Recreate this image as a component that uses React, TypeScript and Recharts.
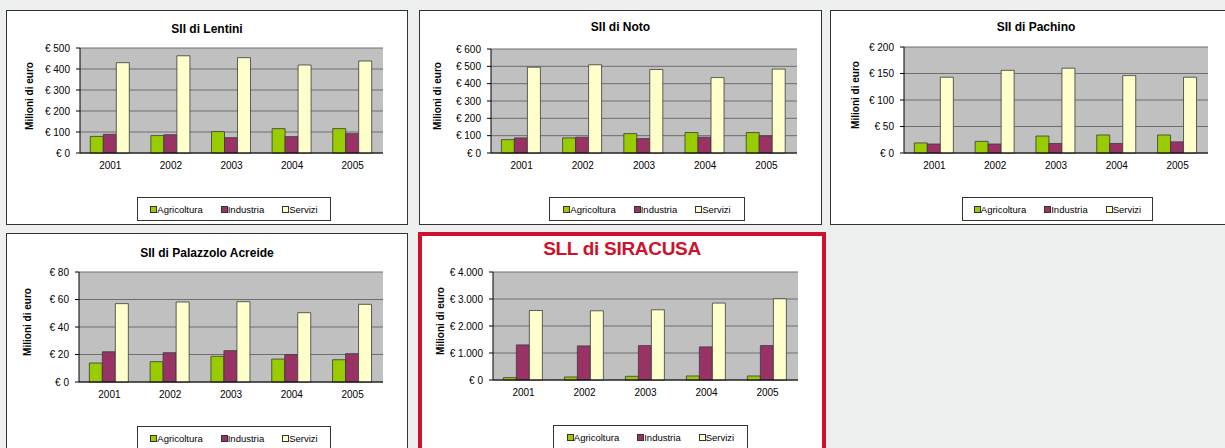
import { BarChart, Bar, XAxis, YAxis, CartesianGrid } from 'recharts';

const years = ['2001', '2002', '2003', '2004', '2005'];

const lentiniAgr = [79, 83, 102, 116, 116];
const lentiniInd = [89, 87, 73, 78, 92];
const lentiniSer = [430, 463, 454, 419, 438];

const notoAgr = [77, 87, 112, 118, 118];
const notoInd = [87, 91, 83, 91, 99];
const notoSer = [495, 509, 482, 435, 484];

const pachinoAgr = [19, 22, 32, 34, 34];
const pachinoInd = [17, 17, 18, 18, 21];
const pachinoSer = [143, 156, 160, 146, 143];

const palazzoloAgr = [13.8, 14.8, 18.7, 16.7, 16.2];
const palazzoloInd = [22, 21.3, 22.8, 19.9, 20.6];
const palazzoloSer = [57, 58.2, 58.4, 50.4, 56.5];

const siracusaAgr = [87, 111, 136, 149, 149];
const siracusaInd = [1300, 1263, 1275, 1226, 1275];
const siracusaSer = [2575, 2563, 2600, 2848, 3009];

const lentiniTicks = [0, 100, 200, 300, 400, 500];
const notoTicks = [0, 100, 200, 300, 400, 500, 600];
const pachinoTicks = [0, 50, 100, 150, 200];
const palazzoloTicks = [0, 20, 40, 60, 80];
const siracusaTicks = [0, 1000, 2000, 3000, 4000];
const edgeTicks = [0, 1, 2, 3, 4, 5];

const seriesNames = ['Agricoltura', 'Industria', 'Servizi'];
const seriesColors = ['#99cc00', '#993366', '#ffffcc'];

const FONT = '"Liberation Sans", Arial, sans-serif';

const euro = (v: number) => '€ ' + String(v).replace(/\B(?=(\d{3})+(?!\d))/g, '.');

const toRows = (agr: number[], ind: number[], ser: number[]) =>
  years.map((y, i) => ({ year: y, Agricoltura: agr[i], Industria: ind[i], Servizi: ser[i] }));

type PanelCfg = {
  title: string;
  rows: any[];
  ticks: number[];
  box: { x: number; y: number; w: number; h: number };
  border: number;
  borderColor: string;
  plot: { l: number; t: number; r: number; b: number };
  titleY: number;
  titleStyle?: any;
  labelX: number;
  legend: { x: number; y: number; w: number };
};

const panels: PanelCfg[] = [
  {
    title: 'SII di Lentini',
    rows: toRows(lentiniAgr, lentiniInd, lentiniSer),
    ticks: lentiniTicks,
    box: { x: 6, y: 10, w: 402, h: 215 },
    border: 1,
    borderColor: '#333',
    plot: { l: 80, t: 48, r: 383, b: 153 },
    titleY: 29,
    labelX: 30,
    legend: { x: 137, y: 197, w: 194 },
  },
  {
    title: 'SII di Noto',
    rows: toRows(notoAgr, notoInd, notoSer),
    ticks: notoTicks,
    box: { x: 419, y: 10, w: 403, h: 215 },
    border: 1,
    borderColor: '#333',
    plot: { l: 491, t: 49, r: 797, b: 153 },
    titleY: 27,
    labelX: 438,
    legend: { x: 549, y: 197, w: 196 },
  },
  {
    title: 'SII di Pachino',
    rows: toRows(pachinoAgr, pachinoInd, pachinoSer),
    ticks: pachinoTicks,
    box: { x: 830, y: 10, w: 412, h: 215 },
    border: 1,
    borderColor: '#333',
    plot: { l: 904, t: 47, r: 1208, b: 153 },
    titleY: 27,
    labelX: 856,
    legend: { x: 962, y: 197, w: 191 },
  },
  {
    title: 'SII di Palazzolo Acreide',
    rows: toRows(palazzoloAgr, palazzoloInd, palazzoloSer),
    ticks: palazzoloTicks,
    box: { x: 6, y: 233, w: 402, h: 240 },
    border: 1,
    borderColor: '#333',
    plot: { l: 79, t: 272, r: 383, b: 382 },
    titleY: 253,
    labelX: 28,
    legend: { x: 137, y: 426, w: 194 },
  },
  {
    title: 'SLL di SIRACUSA',
    rows: toRows(siracusaAgr, siracusaInd, siracusaSer),
    ticks: siracusaTicks,
    box: { x: 418, y: 232, w: 408, h: 240 },
    border: 4,
    borderColor: '#d0112b',
    plot: { l: 493, t: 272, r: 798, b: 380 },
    titleY: 248,
    titleStyle: { color: '#d0112b', fontSize: 19, letterSpacing: -0.3 },
    labelX: 441,
    legend: { x: 553, y: 425, w: 195 },
  },
];

function Legend3({ cfg }: { cfg: PanelCfg }) {
  const ox = cfg.box.x + cfg.border;
  const oy = cfg.box.y + cfg.border;
  return (
    <div
      style={{
        position: 'absolute',
        left: cfg.legend.x - ox,
        top: cfg.legend.y - oy,
        width: cfg.legend.w,
        height: 24,
        boxSizing: 'border-box',
        border: '1px solid #333',
        background: '#fff',
        display: 'flex',
        alignItems: 'center',
        justifyContent: 'center',
        fontSize: 9.5,
      }}
    >
      {seriesNames.map((n, i) => (
        <div key={n} style={{ display: 'flex', alignItems: 'center', marginRight: i < 2 ? 18 : 0 }}>
          <span
            style={{
              display: 'inline-block',
              width: 5,
              height: 5,
              border: '1px solid #333',
              background: seriesColors[i],
            }}
          />
          <span>{n}</span>
        </div>
      ))}
    </div>
  );
}

function Panel({ cfg }: { cfg: PanelCfg }) {
  const ox = cfg.box.x + cfg.border;
  const oy = cfg.box.y + cfg.border;
  const plotL = cfg.plot.l - ox;
  const plotT = cfg.plot.t - oy;
  const plotR = cfg.plot.r - ox;
  const plotB = cfg.plot.b - oy;
  const chartW = plotR + 10;
  const chartH = plotB + 24;
  const max = cfg.ticks[cfg.ticks.length - 1];
  const tfs = cfg.titleStyle?.fontSize ?? 12;

  return (
    <div
      style={{
        position: 'absolute',
        left: cfg.box.x,
        top: cfg.box.y,
        width: cfg.box.w,
        height: cfg.box.h,
        boxSizing: 'border-box',
        border: `${cfg.border}px solid ${cfg.borderColor}`,
        background: '#fff',
      }}
    >
      <div
        style={{
          position: 'absolute',
          left: 0,
          right: 0,
          top: cfg.titleY - oy - 0.49 * tfs,
          textAlign: 'center',
          fontWeight: 'bold',
          fontSize: 12,
          lineHeight: 1,
          color: '#000',
          whiteSpace: 'nowrap',
          ...cfg.titleStyle,
        }}
      >
        {cfg.title}
      </div>
      <div
        style={{
          position: 'absolute',
          left: cfg.labelX - ox,
          top: (plotT + plotB) / 2 - 5,
          transform: 'translate(-50%, -50%) rotate(-90deg)',
          fontWeight: 'bold',
          fontSize: 10,
          lineHeight: 1,
          whiteSpace: 'nowrap',
        }}
      >
        Milioni di euro
      </div>
      <div style={{ position: 'absolute', left: 0, top: 0 }}>
        <BarChart
          width={chartW}
          height={chartH}
          data={cfg.rows}
          margin={{ top: plotT, right: 10, bottom: 0, left: 0 }}
          barCategoryGap="17%"
          barGap={0}
        >
          <CartesianGrid
            xAxisId="b"
            yAxisId="left"
            vertical={false}
            fill="#c0c0c0"
            fillOpacity={1}
            stroke="#6e6e6e"
          />
          <XAxis
            xAxisId="b"
            dataKey="year"
            axisLine={false}
            tickLine={false}
            tickSize={5}
            tickMargin={3}
            height={23}
            interval={0}
            tick={{ fill: '#000', fontSize: 10 }}
          />
          <XAxis
            xAxisId="a"
            type="number"
            domain={[0, 5]}
            ticks={edgeTicks}
            allowDataOverflow
            tick={false}
            tickSize={4}
            height={1}
            axisLine={{ stroke: '#000' }}
            tickLine={{ stroke: '#000' }}
          />
          <YAxis
            yAxisId="left"
            width={plotL}
            domain={[0, max]}
            ticks={cfg.ticks}
            tickFormatter={euro}
            tickSize={4}
            tickMargin={6}
            interval={0}
            axisLine={{ stroke: '#000' }}
            tickLine={{ stroke: '#000' }}
            tick={{ fill: '#000', fontSize: 10 }}
          />
          <YAxis
            yAxisId="right"
            orientation="right"
            width={0}
            domain={[0, max]}
            tick={false}
            tickLine={false}
            axisLine={{ stroke: '#808080', strokeWidth: 2 }}
          />
          {seriesNames.map((n, i) => (
            <Bar
              key={n}
              xAxisId="b"
              yAxisId="left"
              dataKey={n}
              fill={seriesColors[i]}
              stroke="#3a3a3a"
              strokeWidth={0.8}
              isAnimationActive={false}
            />
          ))}
        </BarChart>
      </div>
      <Legend3 cfg={cfg} />
    </div>
  );
}

export default function App() {
  return (
    <div
      style={{
        position: 'fixed',
        left: 0,
        top: 0,
        width: 1225,
        height: 448,
        overflow: 'hidden',
        background: '#eef0ef',
        fontFamily: FONT,
        color: '#000',
      }}
    >
      {panels.map((p) => (
        <Panel key={p.title} cfg={p} />
      ))}
    </div>
  );
}
